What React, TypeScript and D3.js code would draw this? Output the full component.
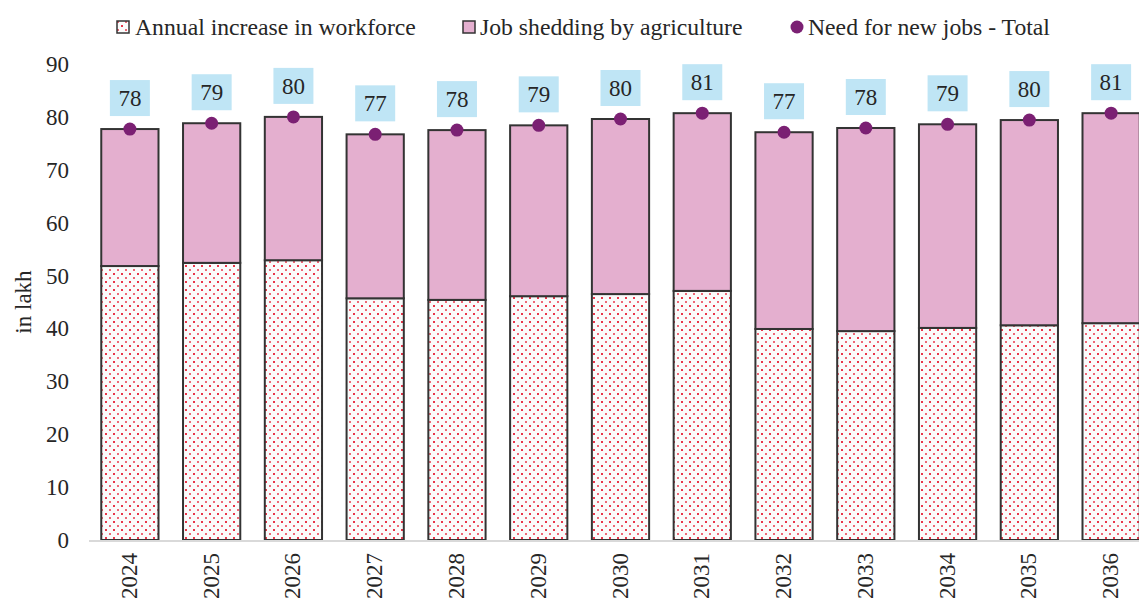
import { useEffect, useRef } from "react";
import * as d3 from "d3";

const years = ["2024", "2025", "2026", "2027", "2028", "2029", "2030", "2031", "2032", "2033", "2034", "2035", "2036"];
const workforceIncrease = [51.8, 52.4, 52.9, 45.7, 45.4, 46.1, 46.5, 47.1, 39.9, 39.5, 40.1, 40.6, 41.0];
const agriShedding = [25.9, 26.4, 27.1, 31.0, 32.1, 32.3, 33.1, 33.6, 37.2, 38.4, 38.5, 38.8, 39.7];
const totalLabels = [78, 79, 80, 77, 78, 79, 80, 81, 77, 78, 79, 80, 81];
const yTicks = [0, 10, 20, 30, 40, 50, 60, 70, 80, 90];

const FONT = "Liberation Serif, DejaVu Serif";
const PINK = "#e4afcf";
const PURPLE = "#7b2073";
const DOT_RED = "#e8364a";
const TXT = "#262626";

const App: React.FC = () => {
  const svgRef = useRef<SVGSVGElement | null>(null);

  useEffect(() => {
    document.body.style.margin = "0";
    const svg = d3.select(svgRef.current);
    svg.selectAll("*").remove();

    const width = 1139,
      height = 600;
    svg.attr("width", width).attr("height", height);

    // dotted fill pattern for the lower segment
    const defs = svg.append("defs");
    const pat = defs
      .append("pattern")
      .attr("id", "dots")
      .attr("patternUnits", "userSpaceOnUse")
      .attr("width", 8)
      .attr("height", 8);
    pat.append("rect").attr("width", 8).attr("height", 8).attr("fill", "#fbfbfb");
    pat.append("rect").attr("x", 1).attr("y", 1).attr("width", 2).attr("height", 2).attr("fill", DOT_RED);
    pat.append("rect").attr("x", 5).attr("y", 5).attr("width", 2).attr("height", 2).attr("fill", DOT_RED).attr("opacity", 0.75);

    const x = d3.scaleBand().domain(years).range([89, 1152]).paddingInner(0.3).paddingOuter(0.15);
    const y = d3.scaleLinear().domain([0, 90]).range([540, 64]);

    const root = svg.append("g").style("font-family", FONT);

    // y tick labels
    root
      .append("g")
      .selectAll("text")
      .data(yTicks)
      .enter()
      .append("text")
      .attr("x", 69)
      .attr("y", (d) => y(d))
      .attr("dy", "0.35em")
      .attr("text-anchor", "end")
      .attr("font-size", 23)
      .attr("fill", TXT)
      .text((d) => d);

    root
      .append("text")
      .attr("transform", `translate(31,302) rotate(-90)`)
      .attr("text-anchor", "middle")
      .attr("font-size", 23)
      .attr("fill", TXT)
      .text("in lakh");

    // bars
    const g = root.append("g");
    g.selectAll(".low")
      .data(years)
      .enter()
      .append("rect")
      .attr("x", (d) => x(d)!)
      .attr("y", (_, i) => y(workforceIncrease[i]))
      .attr("width", x.bandwidth())
      .attr("height", (_, i) => y(0) - y(workforceIncrease[i]))
      .attr("fill", "url(#dots)")
      .attr("stroke", "#333")
      .attr("stroke-width", 2);

    g.selectAll(".high")
      .data(years)
      .enter()
      .append("rect")
      .attr("x", (d) => x(d)!)
      .attr("y", (_, i) => y(workforceIncrease[i] + agriShedding[i]))
      .attr("width", x.bandwidth())
      .attr("height", (_, i) => y(workforceIncrease[i]) - y(workforceIncrease[i] + agriShedding[i]))
      .attr("fill", PINK)
      .attr("stroke", "#333")
      .attr("stroke-width", 2);

    // x axis line
    root
      .append("line")
      .attr("x1", 89)
      .attr("x2", width)
      .attr("y1", y(0) + 1)
      .attr("y2", y(0) + 1)
      .attr("stroke", "#d9d9d9")
      .attr("stroke-width", 2);

    root
      .append("g")
      .selectAll("text")
      .data(years)
      .enter()
      .append("text")
      .attr("transform", (d) => `translate(${x(d)! + x.bandwidth() / 2 + 7},553) rotate(-90)`)
      .attr("text-anchor", "end")
      .attr("font-size", 23)
      .attr("fill", TXT)
      .text((d) => d);

    // total dots + labels
    const cx = (d: string) => x(d)! + x.bandwidth() / 2;
    const tot = (i: number) => workforceIncrease[i] + agriShedding[i];

    root
      .append("g")
      .selectAll("circle")
      .data(years)
      .enter()
      .append("circle")
      .attr("cx", cx)
      .attr("cy", (_, i) => y(tot(i)))
      .attr("r", 6.5)
      .attr("fill", PURPLE);

    const lbl = root.append("g").selectAll("g").data(years).enter().append("g");
    lbl
      .append("rect")
      .attr("x", (d) => cx(d) - 20)
      .attr("y", (_, i) => y(tot(i)) - 13 - 36)
      .attr("width", 40)
      .attr("height", 36)
      .attr("fill", "#bfe5f5");
    lbl
      .append("text")
      .attr("x", cx)
      .attr("y", (_, i) => y(tot(i)) - 13 - 18)
      .attr("dy", "0.35em")
      .attr("text-anchor", "middle")
      .attr("font-size", 23)
      .attr("fill", TXT)
      .text((_, i) => totalLabels[i]);

    // legend
    const leg = root.append("g").attr("font-size", 23.7).attr("fill", TXT);
    leg.append("rect").attr("x", 117).attr("y", 21).attr("width", 12).attr("height", 12).attr("fill", "url(#dots)").attr("stroke", "#333").attr("stroke-width", 1.5);
    leg.append("text").attr("x", 135).attr("y", 27).attr("dy", "0.35em").text("Annual increase in workforce");
    leg.append("rect").attr("x", 463).attr("y", 21).attr("width", 12).attr("height", 12).attr("fill", PINK).attr("stroke", "#333").attr("stroke-width", 1.5);
    leg.append("text").attr("x", 480).attr("y", 27).attr("dy", "0.35em").text("Job shedding by agriculture");
    leg.append("circle").attr("cx", 797).attr("cy", 27).attr("r", 6.5).attr("fill", PURPLE);
    leg.append("text").attr("x", 808).attr("y", 27).attr("dy", "0.35em").text("Need for new jobs - Total");
  }, []);

  return <svg ref={svgRef} style={{ display: "block" }}></svg>;
};

export default App;
